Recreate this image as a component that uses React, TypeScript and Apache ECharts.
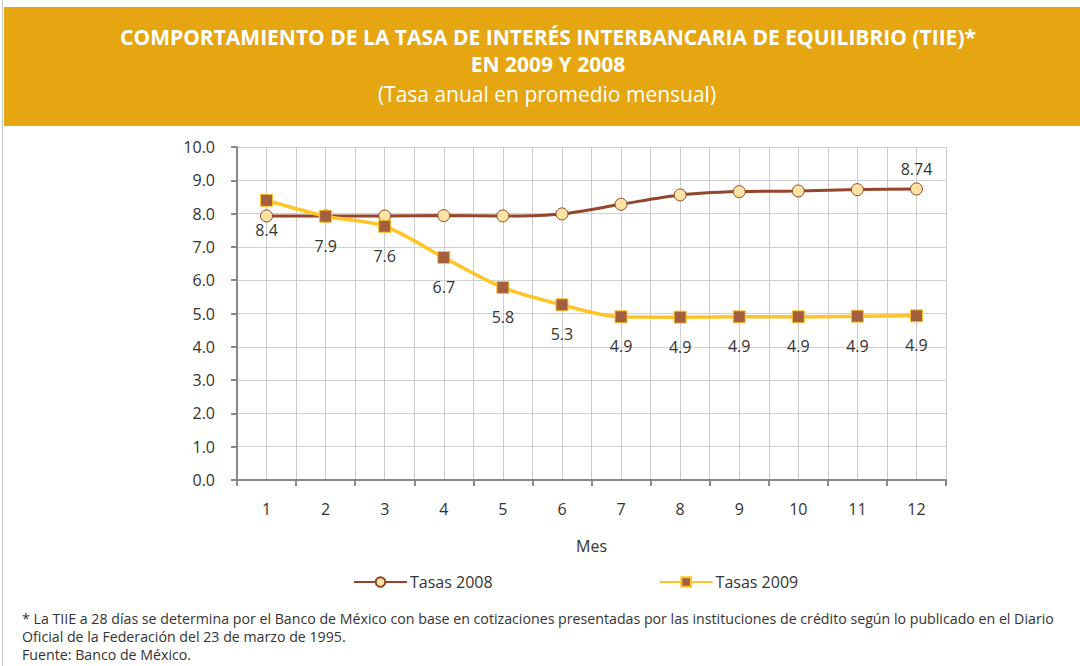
import React, { useEffect, useRef } from "react";
import * as echarts from "echarts";

const months = ["1", "2", "3", "4", "5", "6", "7", "8", "9", "10", "11", "12"];
const tasas2008 = [7.93, 7.93, 7.93, 7.94, 7.93, 7.99, 8.28, 8.56, 8.66, 8.68, 8.72, 8.74];
const tasas2009 = [8.4, 7.92, 7.62, 6.68, 5.78, 5.26, 4.9, 4.89, 4.9, 4.9, 4.92, 4.93];
const yTicks = [0, 1, 2, 3, 4, 5, 6, 7, 8, 9, 10];

const titleLines = [
  "COMPORTAMIENTO DE LA TASA DE INTERÉS INTERBANCARIA DE EQUILIBRIO (TIIE)*",
  "EN 2009 Y 2008",
];
const subtitle = "(Tasa anual en promedio mensual)";
const notes = [
  "* La TIIE a 28 días se determina por el Banco de México con base en cotizaciones presentadas por las instituciones de crédito según lo publicado en el Diario",
  "Oficial de la Federación del 23 de marzo de 1995.",
  "Fuente: Banco de México.",
];

const FONT = "'Open Sans', 'Noto Sans', sans-serif";

export default function App() {
  const ref = useRef<HTMLDivElement>(null);
  useEffect(() => {
    if (!ref.current) return;
    const chart = echarts.init(ref.current, null, { renderer: "svg" });
    const gridLeft = 237;
    const gridRight = 1080 - 946;
    chart.setOption({
      animation: false,
      backgroundColor: "#ffffff",
      textStyle: { fontFamily: FONT },
      graphic: [
        { type: "rect", shape: { x: 4, y: 7, width: 1076, height: 119 }, style: { fill: "#E5A612" } },
        { type: "line", shape: { x1: 2.5, y1: 0, x2: 2.5, y2: 666 }, style: { stroke: "#c8c8c8", lineWidth: 1 } },
        {
          type: "text", x: 548, y: 37,
          style: { text: titleLines[0], fill: "#ffffff", font: `bold 21px ${FONT}`, align: "center", verticalAlign: "middle" },
        },
        {
          type: "text", x: 548, y: 64,
          style: { text: titleLines[1], fill: "#ffffff", font: `bold 21px ${FONT}`, align: "center", verticalAlign: "middle" },
        },
        {
          type: "text", x: 547, y: 94,
          style: { text: subtitle, fill: "#ffffff", font: `21px ${FONT}`, align: "center", verticalAlign: "middle" },
        },
        ...notes.map((t, i) => ({
          type: "text", x: 22, y: 618 + i * 18,
          style: { text: t, fill: "#333333", font: `14.2px ${FONT}`, align: "left", verticalAlign: "middle" },
        })),
      ],
      legend: {
        left: 353,
        top: 574,
        padding: 0,
        itemWidth: 53,
        itemHeight: 12,
        itemGap: 166,
        textStyle: { fontSize: 16, color: "#333", fontFamily: FONT, padding: [0, 0, 0, -2] },
        data: ["Tasas 2008", "Tasas 2009"],
      },
      grid: { left: gridLeft, right: gridRight, top: 147, bottom: 666 - 480 },
      xAxis: [
        {
          type: "category",
          data: months,
          boundaryGap: true,
          name: "Mes",
          nameLocation: "middle",
          nameGap: 58,
          nameTextStyle: { fontSize: 16, color: "#333", fontFamily: FONT },
          axisLine: { lineStyle: { color: "#888", width: 2 } },
          axisTick: { show: true, alignWithLabel: false, length: 6, lineStyle: { color: "#888", width: 2 } },
          axisLabel: { fontSize: 16, color: "#333", margin: 21, fontFamily: FONT },
          splitLine: { show: true, lineStyle: { color: "#cccccc", width: 1 } },
        },
        {
          type: "value",
          min: 0,
          max: 24,
          interval: 1,
          position: "bottom",
          axisLine: { show: false },
          axisTick: { show: false },
          axisLabel: { show: false },
          splitLine: { show: true, lineStyle: { color: "#cccccc", width: 1 } },
        },
      ],
      yAxis: {
        type: "value",
        min: yTicks[0],
        max: yTicks[yTicks.length - 1],
        interval: 1,
        axisLine: { show: true, lineStyle: { color: "#888", width: 2 } },
        axisTick: { show: true, length: 6, lineStyle: { color: "#888", width: 2 } },
        axisLabel: { fontSize: 16, color: "#333", margin: 22, fontFamily: FONT, formatter: (v: number) => v.toFixed(1) },
        splitLine: { show: true, lineStyle: { color: "#d0d0d0", width: 1 } },
      },
      series: [
        {
          name: "Tasas 2008",
          type: "line",
          xAxisIndex: 0,
          data: tasas2008,
          smooth: 0.3,
          symbol: "circle",
          symbolSize: 12,
          lineStyle: { color: "#94452A", width: 3 },
          itemStyle: { color: "#FDE4A4", borderColor: "#94452A", borderWidth: 1 },
          label: {
            show: true,
            position: "top",
            distance: 5,
            fontSize: 16,
            color: "#333",
            fontFamily: FONT,
            formatter: (p: any) => (p.dataIndex === tasas2008.length - 1 ? p.value.toFixed(2) : ""),
          },
          z: 3,
        },
        {
          name: "Tasas 2009",
          type: "line",
          xAxisIndex: 0,
          data: tasas2009,
          smooth: 0.3,
          symbol: "rect",
          symbolSize: 12,
          lineStyle: { color: "#FFC425", width: 3.5 },
          itemStyle: { color: "#A35F3F", borderColor: "#FFC425", borderWidth: 1 },
          label: {
            show: true,
            position: "bottom",
            distance: 15,
            fontSize: 16,
            color: "#333",
            fontFamily: FONT,
            formatter: (p: any) => p.value.toFixed(1),
          },
          z: 4,
        },
      ],
    });
    return () => chart.dispose();
  }, []);
  return <div ref={ref} style={{ position: "absolute", left: 0, top: 0, width: 1080, height: 666 }} />;
}
